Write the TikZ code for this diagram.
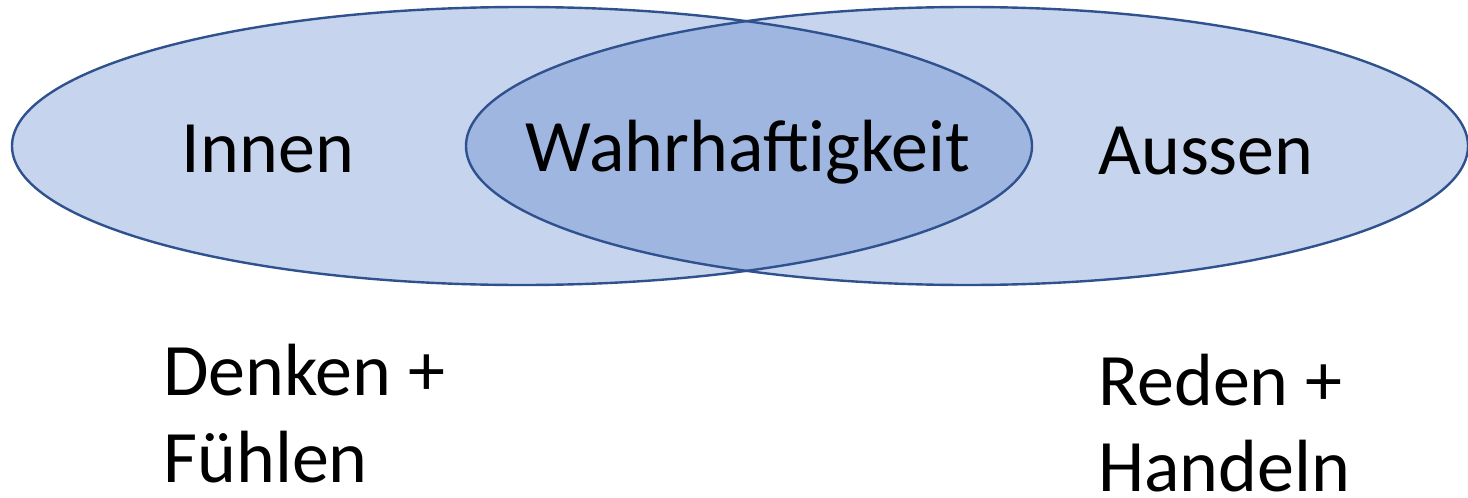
\documentclass[tikz,border=0pt]{standalone}
\usepackage{fontspec}
\setmainfont{Carlito}
\definecolor{edgeblue}{HTML}{2F528F}
\definecolor{lightfill}{HTML}{C6D4ED}
\definecolor{darkfill}{HTML}{9FB6E0}
\tikzset{
  lbl/.style={font=\fontsize{37pt}{44pt}\selectfont, inner sep=0pt, text=black},
  outline/.style={draw=edgeblue, line width=1.2pt}
}
\begin{document}
\begin{tikzpicture}[x=0.5pt,y=-0.5pt]
\useasboundingbox (0,0) rectangle (1468,498);
% fills
\fill[lightfill] (522,146) ellipse [x radius=510, y radius=139];
\fill[lightfill] (967,146) ellipse [x radius=501, y radius=139];
\begin{scope}
  \clip (522,146) ellipse [x radius=510, y radius=139];
  \fill[darkfill] (967,146) ellipse [x radius=501, y radius=139];
\end{scope}
% outlines
\draw[outline] (522,146) ellipse [x radius=510, y radius=139];
\draw[outline] (967,146) ellipse [x radius=501, y radius=139];
% labels
\node[lbl, anchor=base] (innen) at (268,172) {Innen};
\node[lbl, anchor=base] (wahr) at (748,171) {Wahrhaftigkeit};
\node[lbl, anchor=base] (aussen) at (1206,174) {Aussen};
\node[lbl, anchor=base west] (denken) at (163,395) {Denken +};
\node[lbl, anchor=base west] (fuehlen) at (163,482) {Fühlen};
\node[lbl, anchor=base west] (reden) at (1098,405) {Reden +};
\node[lbl, anchor=base west] (handeln) at (1098,491) {Handeln};
\end{tikzpicture}
\end{document}
